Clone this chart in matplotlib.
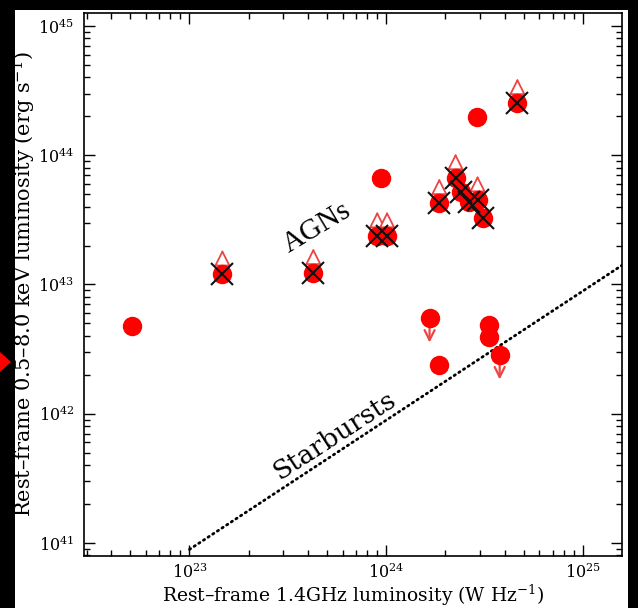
import numpy as np
import matplotlib.pyplot as plt
from matplotlib.patches import Rectangle, Polygon

plt.rcParams['font.family'] = ['DejaVu Serif']
plt.rcParams['mathtext.fontset'] = 'dejavuserif'

# detections (filled circles only)
det_x = [5.1e22, 9.35e23, 2.9e24, 1.86e24, 3.31e24, 3.31e24]
det_y = [4.8e42, 6.7e43, 1.98e44, 2.38e42, 4.86e42, 3.93e42]

# upper limits in X-ray (down arrows)
ul_x = [1.66e24, 3.77e24]
ul_y = [5.5e42, 2.85e42]

# crossed points (AGN candidates); lower limit flag -> up arrow
agn_x = [1.47e23, 4.26e23, 9.0e23, 1.01e24, 1.86e24, 2.25e24, 2.41e24, 2.62e24, 2.91e24, 3.12e24, 4.64e24]
agn_y = [1.2e43, 1.23e43, 2.37e43, 2.37e43, 4.28e43, 6.67e43, 5.2e43, 4.35e43, 4.5e43, 3.27e43, 2.54e44]
agn_lim = [1, 1, 1, 1, 1, 1, 0, 0, 1, 0, 1]

# starburst relation: log Lx = log L1.4 + offset
sb_x = np.array([1e23, 2e25])
sb_offset = 17.95

fig = plt.figure(figsize=(6.38, 6.08), dpi=100, facecolor='black')
fig.patches.append(Rectangle((15 / 638, 0), 613 / 638, 1 - 10 / 608, transform=fig.transFigure,
                             facecolor='white', edgecolor='none', zorder=0))
fig.patches.append(Polygon([[0, 1 - 352 / 608], [0, 1 - 372 / 608], [11 / 638, 1 - 362 / 608]],
                           closed=True, transform=fig.transFigure, facecolor='red', edgecolor='none'))

ax = fig.add_axes([84 / 638, 1 - 556 / 608, 538 / 638, 543 / 608])
ax.set_zorder(2)
ax.set_xscale('log')
ax.set_yscale('log')
ax.set_xlim(10 ** 22.464, 10 ** 25.198)
ax.set_ylim(10 ** 40.899, 10 ** 45.10)

red = '#ff0000'
arrow_red = '#ee4444'
ms = 14

ax.plot(sb_x, sb_x * 10 ** sb_offset, color='black', lw=2.0, ls=(0, (0.5, 1.5)),
        dash_capstyle='round', zorder=1)

# arrows
for x, y, lim in zip(agn_x, agn_y, agn_lim):
    if lim:
        ax.annotate('', xy=(x, y * 1.55), xytext=(x, y),
                    arrowprops=dict(arrowstyle='-|>,head_length=0.5,head_width=0.25', mutation_scale=20,
                                    ec=arrow_red, fc='white', lw=1.3, shrinkA=0, shrinkB=0), zorder=2)
for x, y in zip(ul_x, ul_y):
    ax.annotate('', xy=(x, y / 1.55), xytext=(x, y),
                arrowprops=dict(arrowstyle='->', mutation_scale=18, color=arrow_red,
                                lw=1.6, shrinkA=0, shrinkB=0), zorder=2)

ax.plot(det_x, det_y, 'o', color=red, ms=ms, mec='none', zorder=3)
ax.plot(ul_x, ul_y, 'o', color=red, ms=ms, mec='none', zorder=3)
ax.plot(agn_x, agn_y, 'o', color=red, ms=ms, mec='none', zorder=3)
ax.plot(agn_x, agn_y, 'x', color='#111111', ms=16, mew=1.5, zorder=4)

ax.text(10 ** 23.65, 10 ** 43.44, 'AGNs', rotation=31, fontsize=21, ha='center', va='center',
        family='Liberation Serif')
ax.text(10 ** 23.74, 10 ** 41.83, 'Starbursts', rotation=33, fontsize=19, ha='center', va='center')

ax.tick_params(which='both', direction='in', top=True, right=True, labelsize=11.5, colors='black')
ax.tick_params(axis='x', pad=5)
ax.tick_params(axis='y', pad=7)
ax.tick_params(which='major', length=8, width=1)
ax.tick_params(which='minor', length=4, width=1)
for s in ax.spines.values():
    s.set_linewidth(1.2)

ax.set_xlabel('Rest\u2013frame 1.4GHz luminosity (W Hz$^{-1}$)', fontsize=13.5)
ax.set_ylabel('Rest\u2013frame 0.5\u20138.0 keV luminosity (erg s$^{-1}$)', fontsize=15)
ax.xaxis.set_label_coords(0.5, -0.05)
ax.yaxis.set_label_coords(-0.086, 0.5)

fig.savefig('out.png', dpi=100, facecolor='black')
